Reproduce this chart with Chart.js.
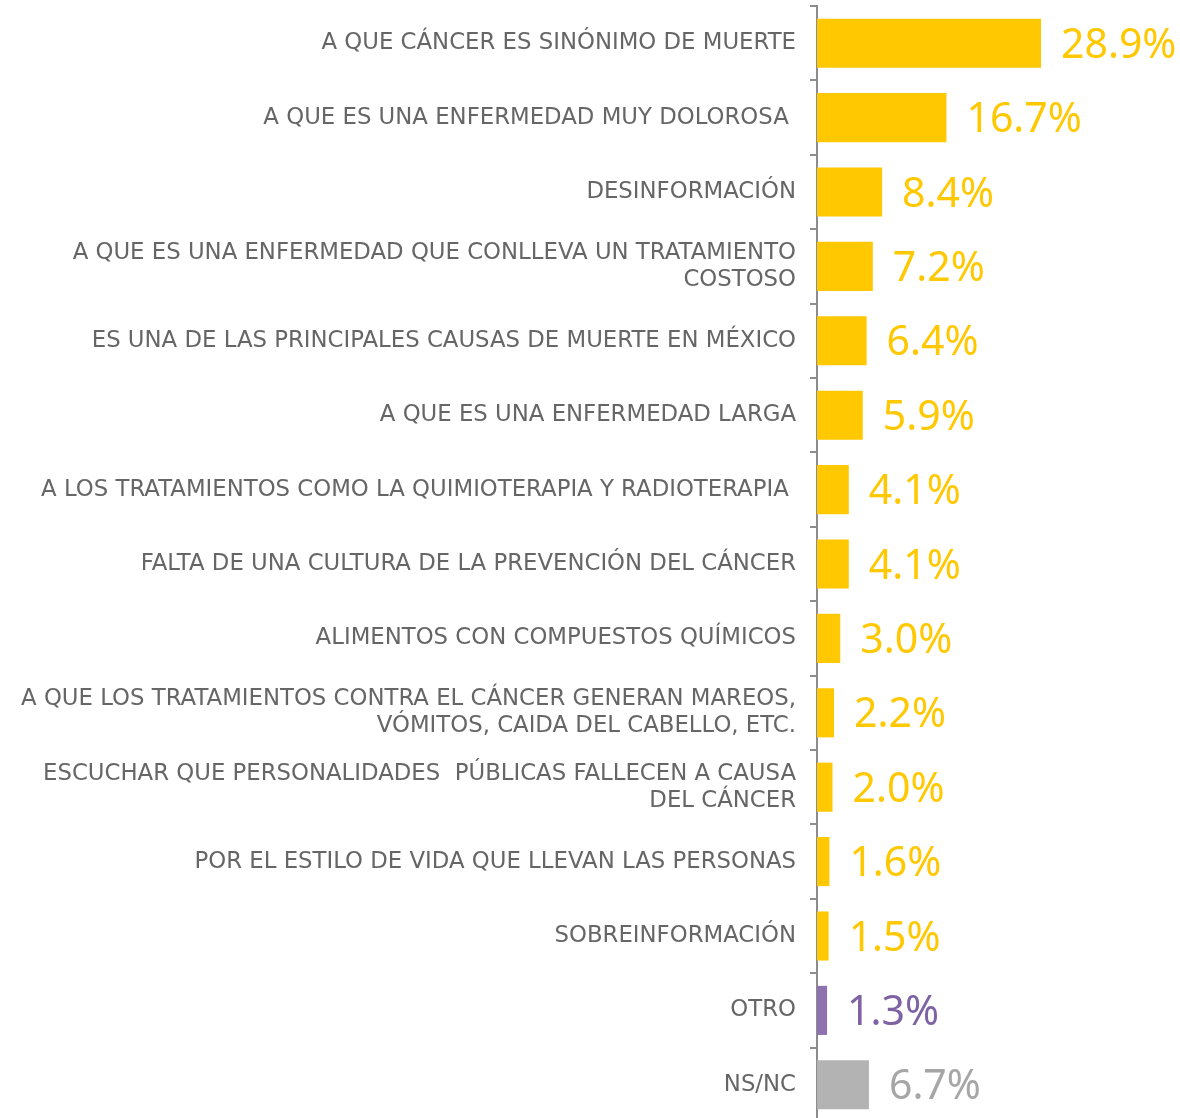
<!DOCTYPE html>
<html>
<head>
<meta charset="utf-8">
<script src="https://cdn.jsdelivr.net/npm/chart.js@4"></script>
<style>
  html, body { margin: 0; padding: 0; background: #fff; overflow: hidden; }
  #wrap { position: relative; width: 1180px; height: 1122px; }
</style>
</head>
<body>
<div id="wrap"><canvas id="chart"></canvas></div>
<script>
const LABELS = [
  "A QUE CÁNCER ES SINÓNIMO DE MUERTE",
  "A QUE ES UNA ENFERMEDAD MUY DOLOROSA ",
  "DESINFORMACIÓN",
  ["A QUE ES UNA ENFERMEDAD QUE CONLLEVA UN TRATAMIENTO", "COSTOSO"],
  "ES UNA DE LAS PRINCIPALES CAUSAS DE MUERTE EN MÉXICO",
  "A QUE ES UNA ENFERMEDAD LARGA",
  "A LOS TRATAMIENTOS COMO LA QUIMIOTERAPIA Y RADIOTERAPIA ",
  "FALTA DE UNA CULTURA DE LA PREVENCIÓN DEL CÁNCER",
  "ALIMENTOS CON COMPUESTOS QUÍMICOS",
  ["A QUE LOS TRATAMIENTOS CONTRA EL CÁNCER GENERAN MAREOS,", "VÓMITOS, CAIDA DEL CABELLO, ETC."],
  ["ESCUCHAR QUE PERSONALIDADES  PÚBLICAS FALLECEN A CAUSA", "DEL CÁNCER"],
  "POR EL ESTILO DE VIDA QUE LLEVAN LAS PERSONAS",
  "SOBREINFORMACIÓN",
  "OTRO",
  "NS/NC",
];

const VALUES = [28.9, 16.7, 8.4, 7.2, 6.4, 5.9, 4.1, 4.1, 3.0, 2.2, 2.0, 1.6, 1.5, 1.3, 6.7];

const YELLOW = "#ffc800";
const PURPLE = "#8e72b0";
const GRAY = "#b3b3b3";
const BAR_COLORS = VALUES.map((v, i) => (i === 13 ? PURPLE : i === 14 ? GRAY : YELLOW));
const TEXT_COLORS = VALUES.map((v, i) => (i === 13 ? "#7e62a3" : i === 14 ? "#a6a6a6" : YELLOW));

const LABEL_FONT = "'DejaVu Sans', sans-serif";
const VALUE_FONT = "'Noto Sans', sans-serif";

const valueLabels = {
  id: "valueLabels",
  afterDatasetsDraw(chart) {
    const ctx = chart.ctx;
    const meta = chart.getDatasetMeta(0);
    ctx.save();
    ctx.font = "41px " + VALUE_FONT;
    ctx.textAlign = "left";
    ctx.textBaseline = "middle";
    meta.data.forEach((bar, i) => {
      ctx.fillStyle = TEXT_COLORS[i];
      ctx.fillText(VALUES[i].toFixed(1) + "%", bar.x + 20, bar.y + 3);
    });
    ctx.restore();
  },
};

new Chart(document.getElementById("chart"), {
  type: "bar",
  data: {
    labels: LABELS,
    datasets: [{
      data: VALUES,
      backgroundColor: BAR_COLORS,
      barPercentage: 0.66,
      categoryPercentage: 1,
    }],
  },
  options: {
    indexAxis: "y",
    responsive: true,
    maintainAspectRatio: false,
    animation: false,
    layout: { padding: { top: 6, right: 0, bottom: 0, left: 0 } },
    plugins: { legend: { display: false }, tooltip: { enabled: false } },
    scales: {
      x: { display: false, min: 0, max: 46.83 },
      y: {
        afterFit(scale) {
          // fixed axis position, and no extra room for the first/last label
          scale.width = 817;
          scale.paddingTop = 0;
          scale.paddingBottom = 0;
        },
        border: { display: true, color: "#8c8c8c", width: 2 },
        grid: { drawOnChartArea: false, tickLength: 7, color: "#8c8c8c", lineWidth: 2, offset: true },
        ticks: {
          color: "#666666",
          padding: 14,
          font: { family: LABEL_FONT, size: 22.8, lineHeight: 1.18 },
        },
      },
    },
  },
  plugins: [valueLabels],
});
</script>
</body>
</html>
